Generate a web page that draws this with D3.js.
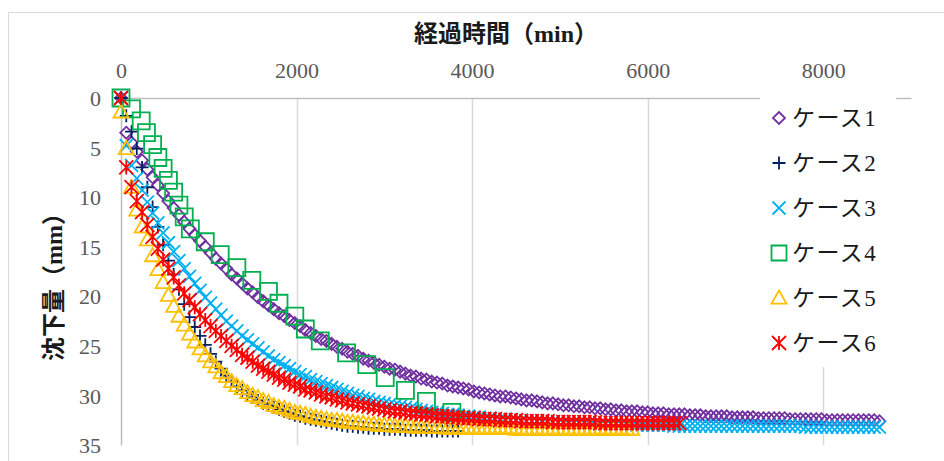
<!DOCTYPE html>
<html>
<head>
<meta charset="utf-8">
<script src="https://cdn.jsdelivr.net/npm/d3@7"></script>
<style>
  body { margin: 0; background: #fff; }
  svg { display: block; }
</style>
</head>
<body>
<div class="container"></div>
<script>
// settlement (mm), one reading every sampleInterval minutes
const sampleInterval = 60

const case1 = [0,
  3.5,4.5,5.4,6.3,7.2,8.0,8.8,9.6,10.4,11.1,
  11.8,12.5,13.2,13.8,14.4,15.0,15.6,16.2,16.7,17.2,
  17.8,18.2,18.7,19.2,19.6,20.1,20.5,20.9,21.3,21.7,
  22.0,22.4,22.7,23.0,23.4,23.7,24.0,24.3,24.5,24.8,
  25.1,25.3,25.6,25.8,26.0,26.3,26.5,26.7,26.9,27.1,
  27.3,27.4,27.6,27.8,28.0,28.1,28.3,28.4,28.6,28.7,
  28.8,29.0,29.1,29.2,29.3,29.4,29.6,29.7,29.8,29.9,
  30.0,30.1,30.1,30.2,30.3,30.4,30.5,30.5,30.6,30.7,
  30.8,30.8,30.9,31.0,31.0,31.1,31.1,31.2,31.2,31.3,
  31.3,31.4,31.4,31.5,31.5,31.6,31.6,31.6,31.7,31.7,
  31.8,31.8,31.8,31.9,31.9,31.9,31.9,32.0,32.0,32.0,
  32.1,32.1,32.1,32.1,32.1,32.2,32.2,32.2,32.2,32.2,
  32.3,32.3,32.3,32.3,32.3,32.3,32.4,32.4,32.4,32.4,
  32.4,32.4,32.4,32.5,32.5,32.5,32.5,32.5,32.5,32.5,
  32.5,32.5,32.5,32.6]

const case2 = [0,
  1.8,3.4,5.1,7.0,9.0,11.0,13.0,14.8,16.4,17.8,
  19.3,20.8,22.1,23.1,24.0,24.9,25.8,26.6,27.3,28.0,
  28.6,29.1,29.5,29.9,30.2,30.5,30.8,31.0,31.2,31.4,
  31.6,31.8,32.0,32.1,32.3,32.4,32.5,32.6,32.7,32.8,
  32.9,33.0,33.1,33.1,33.2,33.2,33.3,33.3,33.3,33.4,
  33.4,33.4,33.4,33.5,33.5,33.5,33.5,33.5,33.6,33.6,
  33.6,33.6,33.6,33.6]

const case3 = [0,
  4.8,6.8,8.1,9.3,10.5,11.6,12.6,13.6,14.6,15.5,
  16.4,17.2,18.0,18.7,19.4,20.1,20.7,21.3,21.9,22.5,
  23.0,23.5,24.0,24.4,24.8,25.2,25.6,26.0,26.4,26.7,
  27.0,27.3,27.6,27.9,28.1,28.4,28.6,28.8,29.0,29.2,
  29.4,29.6,29.8,30.0,30.1,30.3,30.4,30.6,30.7,30.8,
  30.9,31.0,31.1,31.2,31.3,31.4,31.5,31.6,31.7,31.7,
  31.8,31.9,31.9,32.0,32.1,32.1,32.2,32.2,32.3,32.3,
  32.4,32.4,32.4,32.5,32.5,32.5,32.6,32.6,32.6,32.7,
  32.7,32.7,32.7,32.8,32.8,32.8,32.8,32.8,32.9,32.9,
  32.9,32.9,32.9,32.9,32.9,33.0,33.0,33.0,33.0,33.0,
  33.0,33.0,33.0,33.0,33.1,33.1,33.1,33.1,33.1,33.1,
  33.1,33.1,33.1,33.1,33.1,33.1,33.1,33.1,33.1,33.1,
  33.1,33.1,33.1,33.1,33.1,33.1,33.1,33.1,33.1,33.2,
  33.2,33.2,33.2,33.2,33.2,33.2,33.2,33.2,33.2,33.2,
  33.2,33.2,33.2,33.2]

// case 4 was read at irregular times
const case4Time = [0,120,230,290,360,420,480,540,600,660,720,790,960,1130,1320,1490,1680,1800,1980,2100,2270,2570,2800,3010,3240,3480,3770]
const case4 = [0,1.1,2.3,3.5,4.7,6.0,7.1,8.3,9.5,10.8,12.0,13.2,14.5,15.8,17.1,18.4,19.5,20.7,22.0,23.3,24.5,25.7,26.9,28.2,29.5,30.6,31.7]

const case5 = [1.4,5.1,9.0,11.3,13.0,14.3,15.9,17.3,18.6,19.9,
  21.0,22.0,22.9,23.8,24.6,25.3,26.0,26.6,27.1,27.7,
  28.1,28.6,29.0,29.3,29.7,30.0,30.2,30.5,30.7,31.0,
  31.2,31.3,31.5,31.7,31.8,31.9,32.1,32.2,32.3,32.4,
  32.5,32.5,32.6,32.7,32.7,32.8,32.8,32.9,32.9,33.0,
  33.0,33.0,33.1,33.1,33.1,33.1,33.2,33.2,33.2,33.2,
  33.2,33.2,33.3,33.3,33.3,33.3,33.3,33.3,33.3,33.3,
  33.3,33.3,33.3,33.3,33.3,33.4,33.4,33.4,33.4,33.4,
  33.4,33.4,33.4,33.4,33.4,33.4,33.4,33.4,33.4,33.4,
  33.4,33.4,33.4,33.4,33.4,33.4,33.4,33.4]

const case6 = [0,7.0,9.0,10.4,11.5,12.8,14.0,15.2,16.3,17.2,
  18.1,18.9,19.7,20.4,21.1,21.8,22.4,23.0,23.5,24.0,
  24.5,25.0,25.4,25.9,26.2,26.6,27.0,27.3,27.6,27.9,
  28.2,28.4,28.7,28.9,29.1,29.4,29.5,29.7,29.9,30.1,
  30.2,30.4,30.5,30.7,30.8,30.9,31.0,31.1,31.2,31.3,
  31.4,31.5,31.6,31.6,31.7,31.8,31.8,31.9,31.9,32.0,
  32.1,32.1,32.1,32.2,32.2,32.3,32.3,32.3,32.4,32.4,
  32.4,32.4,32.5,32.5,32.5,32.5,32.6,32.6,32.6,32.6,
  32.6,32.6,32.7,32.7,32.7,32.7,32.7,32.7,32.7,32.7,
  32.7,32.8,32.8,32.8,32.8,32.8,32.8,32.8,32.8,32.8,
  32.8,32.8,32.8,32.8,32.8,32.8,32.8]

const caseNames = ['ケース1', 'ケース2', 'ケース3', 'ケース4', 'ケース5', 'ケース6']
const xTicks = [0, 2000, 4000, 6000, 8000]
const yTicks = [0, 5, 10, 15, 20, 25, 30, 35]
const xTitle = '経過時間（min）'
const yTitle = '沈下量（mm）'

// styles
const colors = ['#7030A0', '#002060', '#00B0F0', '#00B050', '#FFC000', '#FF0000']
const shapes = ['diamond', 'plus', 'cross', 'square', 'triangle', 'star']
const sizes = [12, 13, 13, 17, 15, 14]

const width = 944
const height = 461

const withTimes = (vals, times) => vals.map((v, i) => ({ t: times ? times[i] : i * sampleInterval, s: v }))
const series = [
  withTimes(case1), withTimes(case2), withTimes(case3),
  withTimes(case4, case4Time), withTimes(case5), withTimes(case6)
]

const markerPath = (shape, size) => {
  const h = size / 2
  switch (shape) {
    case 'diamond': return `M0,${-h}L${h},0L0,${h}L${-h},0Z`
    case 'plus': return `M${-h},0H${h}M0,${-h}V${h}`
    case 'cross': return `M${-h},${-h}L${h},${h}M${-h},${h}L${h},${-h}`
    case 'square': return `M${-h},${-h}H${h}V${h}H${-h}Z`
    case 'triangle': return `M0,${-h}L${h},${h * 0.75}L${-h},${h * 0.75}Z`
    case 'star': return `M${-h},${-h}L${h},${h}M${-h},${h}L${h},${-h}M0,${-h}V${h}`
  }
}

const xScale = d3.scaleLinear().domain([0, 9000]).range([121, 911])
const yScale = d3.scaleLinear().domain([0, 35]).range([98, 445])

const svg = d3.select('.container')
  .append('svg')
    .attr('width', width)
    .attr('height', height)

svg.append('rect')
  .attr('x', 8.5).attr('y', 12.5)
  .attr('width', 940).attr('height', 460)
  .attr('fill', '#fff')
  .attr('stroke', '#d9d9d9')

// vertical gridlines
svg.append('g')
  .selectAll('line')
  .data(xTicks.slice(1))
  .enter()
  .append('line')
    .attr('x1', d => Math.round(xScale(d)) + 0.5)
    .attr('x2', d => Math.round(xScale(d)) + 0.5)
    .attr('y1', yScale(0))
    .attr('y2', yScale(35))
    .attr('stroke', '#d9d9d9')
    .attr('stroke-width', 1.5)

const xAxis = d3.axisTop(xScale).tickValues(xTicks).tickFormat(d3.format('d')).tickSize(0).tickPadding(20)
const yAxis = d3.axisLeft(yScale).tickValues(yTicks).tickFormat(d3.format('d')).tickSize(0).tickPadding(20)

const gx = svg.append('g')
  .attr('id', 'x-axis')
  .attr('transform', `translate(0, ${yScale(0)})`)
  .call(xAxis)

const gy = svg.append('g')
  .attr('id', 'y-axis')
  .attr('transform', `translate(${xScale(0)}, 0)`)
  .call(yAxis)

;[gx, gy].forEach(g => {
  g.select('.domain').attr('stroke', '#bfbfbf').attr('stroke-width', 1.5)
  g.selectAll('text')
    .attr('font-family', '"Liberation Serif", serif')
    .attr('font-size', 22)
    .attr('fill', '#595959')
})
gy.selectAll('text').attr('dy', '0.35em')

// series, drawn in order so ケース6 ends up on top
series.forEach((data, k) => {
  svg.append('g')
    .selectAll('path')
    .data(data)
    .enter()
    .append('path')
      .attr('d', markerPath(shapes[k], sizes[k]))
      .attr('transform', d => `translate(${xScale(d.t)}, ${yScale(d.s)})`)
      .attr('fill', 'none')
      .attr('stroke', colors[k])
      .attr('stroke-width', 1.8)
})

// legend
const legend = svg.append('g')
legend.append('rect')
  .attr('x', 760).attr('y', 95)
  .attr('width', 136).attr('height', 272)
  .attr('fill', '#fff')

const items = legend.selectAll('g')
  .data(caseNames)
  .enter()
  .append('g')
    .attr('transform', (d, i) => `translate(779, ${118 + i * 45})`)

items.append('path')
  .attr('d', (d, i) => markerPath(shapes[i], Math.min(sizes[i], 15)))
  .attr('fill', 'none')
  .attr('stroke', (d, i) => colors[i])
  .attr('stroke-width', 1.8)

items.append('text')
  .attr('x', 13)
  .attr('dy', '0.36em')
  .attr('font-family', '"Liberation Serif", "Noto Sans CJK JP", serif')
  .attr('font-size', 23)
  .attr('letter-spacing', 1.5)
  .attr('fill', '#1a1a1a')
  .text(d => d)

// axis titles
svg.append('text')
  .attr('x', 506)
  .attr('y', 42)
  .attr('text-anchor', 'middle')
  .attr('font-family', '"Liberation Serif", "Noto Sans CJK JP", serif')
  .attr('font-size', 24)
  .attr('font-weight', 'bold')
  .attr('fill', '#1a1a1a')
  .text(xTitle)

svg.append('text')
  .attr('transform', 'translate(62, 281) rotate(-90)')
  .attr('text-anchor', 'middle')
  .attr('font-family', '"Liberation Serif", "Noto Sans CJK JP", serif')
  .attr('font-size', 24)
  .attr('font-weight', 'bold')
  .attr('fill', '#1a1a1a')
  .text(yTitle)
</script>
</body>
</html>
